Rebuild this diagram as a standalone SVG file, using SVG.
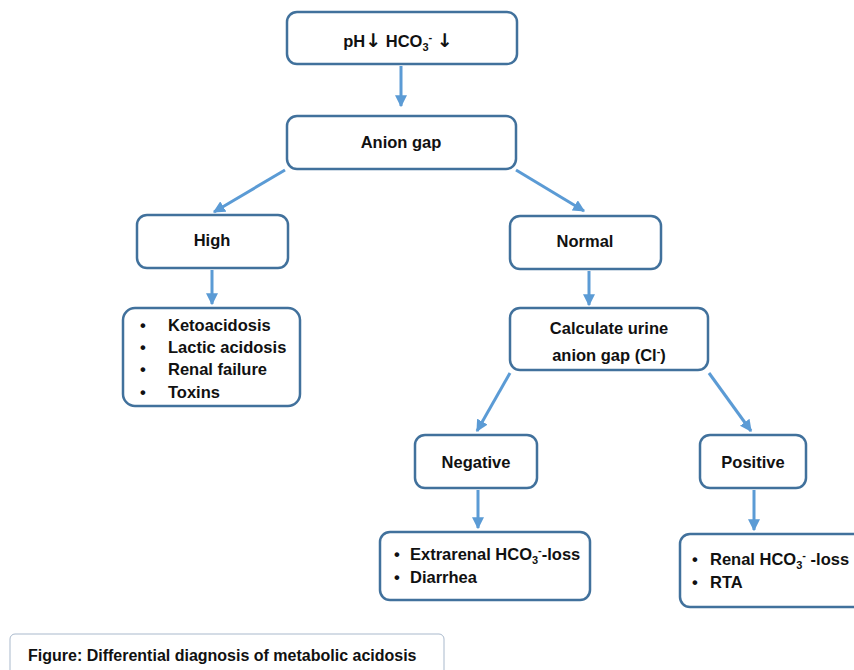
<svg xmlns="http://www.w3.org/2000/svg" width="854" height="670" viewBox="0 0 854 670">
<style>
.box{fill:#fff;stroke:#41719C;stroke-width:2.5}
.t{font-family:"Liberation Sans",Arial,sans-serif;font-weight:bold;font-size:16.5px;fill:#111}
.c{text-anchor:middle}
.a{stroke:#5B9BD5;stroke-width:3;fill:none;marker-end:url(#ah)}
.sub{font-size:11px}
.arr{font-family:"DejaVu Sans",sans-serif;font-size:19px;font-weight:bold}
</style>
<defs>
<marker id="ah" viewBox="0 0 10 10" refX="9" refY="5" markerWidth="4" markerHeight="4" orient="auto" markerUnits="strokeWidth">
<path d="M0,0 L10,5 L0,10 z" fill="#5B9BD5"/>
</marker>
</defs>
<rect width="854" height="670" fill="#fff"/>
<g id="connectors">
<line class="a" x1="401" y1="66" x2="401" y2="106"/>
<line class="a" x1="285" y1="170" x2="214" y2="212"/>
<line class="a" x1="516" y1="170" x2="584" y2="211"/>
<line class="a" x1="212" y1="270" x2="212" y2="304"/>
<line class="a" x1="589" y1="271" x2="589" y2="305"/>
<line class="a" x1="510" y1="373" x2="477" y2="431"/>
<line class="a" x1="709" y1="373" x2="751" y2="431"/>
<line class="a" x1="478" y1="490" x2="478" y2="528"/>
<line class="a" x1="754" y1="490" x2="754" y2="530"/>
</g>
<g id="n-ph">
<rect class="box" x="287" y="12" width="230" height="52" rx="10"/>
<text class="t c" x="398" y="47">pH<tspan class="arr">↓</tspan> HCO<tspan class="sub" dy="4">3</tspan><tspan class="sub" dy="-10">-</tspan><tspan dy="6"> </tspan><tspan class="arr">↓</tspan></text>
</g>
<g id="n-anion">
<rect class="box" x="287" y="116" width="229" height="53" rx="10"/>
<text class="t c" x="401" y="148">Anion gap</text>
</g>
<g id="n-high">
<rect class="box" x="137" y="215" width="151" height="53" rx="10"/>
<text class="t c" x="212" y="246">High</text>
</g>
<g id="n-normal">
<rect class="box" x="510" y="216" width="151" height="53" rx="10"/>
<text class="t c" x="585" y="247">Normal</text>
</g>
<g id="n-highlist">
<rect class="box" x="123" y="308" width="177" height="98" rx="12"/>
<text class="t" x="140" y="331">•</text>
<text class="t" x="168" y="331">Ketoacidosis</text>
<text class="t" x="140" y="353">•</text>
<text class="t" x="168" y="353">Lactic acidosis</text>
<text class="t" x="140" y="375">•</text>
<text class="t" x="168" y="375">Renal failure</text>
<text class="t" x="140" y="398">•</text>
<text class="t" x="168" y="398">Toxins</text>
</g>
<g id="n-calc">
<rect class="box" x="510" y="308" width="198" height="62" rx="10"/>
<text class="t c" x="609" y="334">Calculate urine</text>
<text class="t c" x="609" y="361">anion gap (Cl<tspan class="sub" dy="-6">-</tspan><tspan dy="6">)</tspan></text>
</g>
<g id="n-neg">
<rect class="box" x="415" y="435" width="122" height="53" rx="10"/>
<text class="t c" x="476" y="468">Negative</text>
</g>
<g id="n-pos">
<rect class="box" x="700" y="435" width="106" height="53" rx="10"/>
<text class="t c" x="753" y="468">Positive</text>
</g>
<g id="n-extra">
<rect class="box" x="380" y="532" width="210" height="68" rx="10"/>
<text class="t" x="394" y="560">•</text>
<text class="t" x="410" y="560">Extrarenal HCO<tspan class="sub" dy="4">3</tspan><tspan class="sub" dy="-10">-</tspan><tspan dy="6">-loss</tspan></text>
<text class="t" x="394" y="583">•</text>
<text class="t" x="410" y="583">Diarrhea</text>
</g>
<g id="n-renal">
<rect class="box" x="680" y="534" width="184" height="73" rx="10"/>
<text class="t" x="692" y="565">•</text>
<text class="t" x="710" y="565">Renal HCO<tspan class="sub" dy="4">3</tspan><tspan class="sub" dy="-10">-</tspan><tspan dy="6"> -loss</tspan></text>
<text class="t" x="692" y="588">•</text>
<text class="t" x="710" y="588">RTA</text>
</g>
<g id="caption">
<rect x="10" y="634" width="434" height="50" rx="5" fill="#fff" stroke="#A9B9CC" stroke-width="1"/>
<text class="t" x="28" y="661" style="font-size:16px">Figure: Differential diagnosis of metabolic acidosis</text>
</g>
</svg>
